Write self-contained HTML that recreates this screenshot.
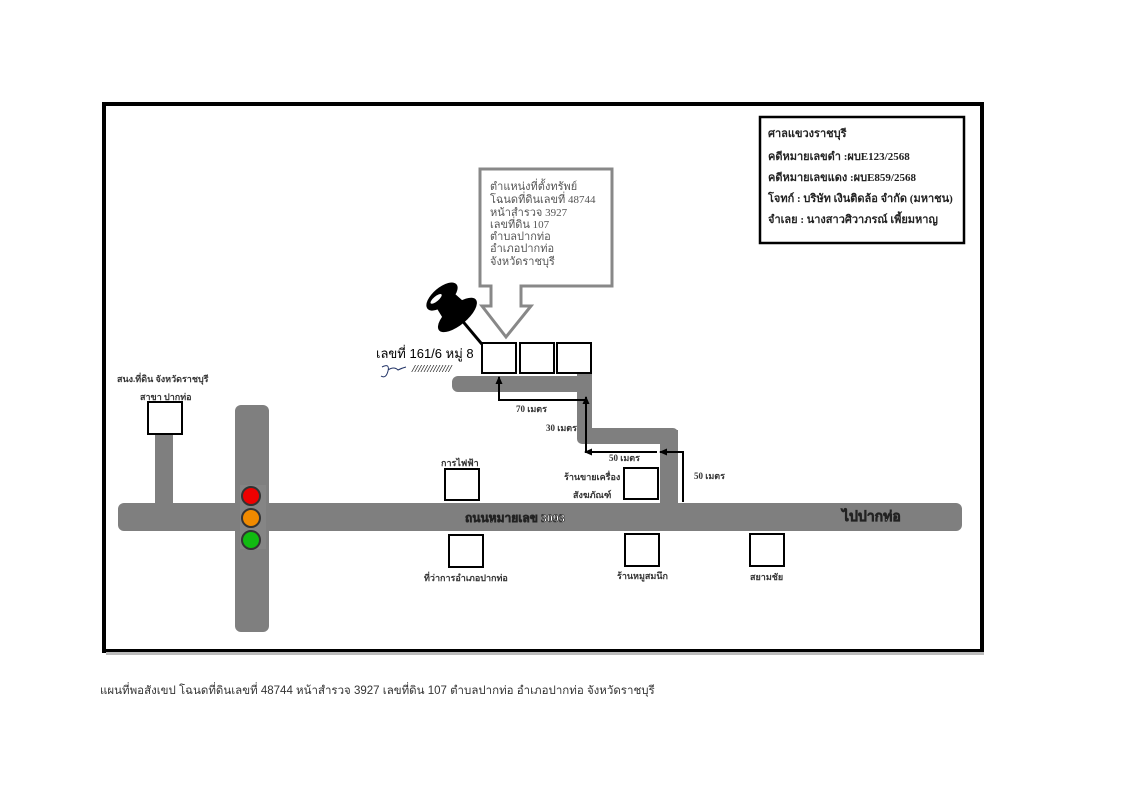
<!DOCTYPE html>
<html><head><meta charset="utf-8"><style>
body{margin:0;background:#fff;width:1132px;height:800px;overflow:hidden}
svg{position:absolute;left:0;top:0}
text{font-family:"Liberation Serif","Noto Serif CJK SC",serif;}
.s{font-family:"Liberation Sans","Noto Sans CJK SC",sans-serif}
</style></head><body>
<svg width="1132" height="800" viewBox="0 0 1132 800">
<defs><marker id="a" markerUnits="userSpaceOnUse" markerWidth="8" markerHeight="8" refX="7" refY="4" orient="auto"><path d="M0,0.5 L8,4 L0,7.5 z" fill="#000"/></marker></defs>
<rect x="104" y="104" width="878" height="547" fill="none" stroke="#000" stroke-width="4"/>
<rect x="106" y="652" width="878" height="3" fill="#bbb"/>
<!-- info box -->
<rect x="760" y="117" width="204" height="126" fill="#fff" stroke="#000" stroke-width="2.5"/>
<g font-size="11" font-weight="bold" fill="#222">
<text x="768" y="137">ศาลแขวงราชบุรี</text>
<text x="768" y="160">คดีหมายเลขดำ :ผบE123/2568</text>
<text x="768" y="181">คดีหมายเลขแดง :ผบE859/2568</text>
<text x="768" y="202">โจทก์ : บริษัท เงินติดล้อ จำกัด (มหาชน)</text>
<text x="768" y="223">จำเลย : นางสาวศิวาภรณ์ เพี้ยมหาญ</text>
</g>
<!-- callout -->
<path d="M480,169 H612 V286 H521 V306 H531 L506,337 L482,306 H491 V286 H480 Z" fill="#fff" stroke="#888" stroke-width="3"/>
<g font-size="11" fill="#555">
<text x="490" y="190">ตำแหน่งที่ตั้งทรัพย์</text>
<text x="490" y="203">โฉนดที่ดินเลขที่ 48744</text>
<text x="490" y="216">หน้าสำรวจ 3927</text>
<text x="490" y="228">เลขที่ดิน 107</text>
<text x="490" y="240">ตำบลปากท่อ</text>
<text x="490" y="252">อำเภอปากท่อ</text>
<text x="490" y="265">จังหวัดราชบุรี</text>
</g>
<!-- roads -->
<g fill="#7f7f7f">
<rect x="118" y="503" width="844" height="28" rx="6"/>
<rect x="235" y="405" width="34" height="227" rx="6"/>
<rect x="155" y="433" width="18" height="72"/>
<rect x="452" y="376" width="140" height="16" rx="6"/>
<rect x="577" y="345" width="15" height="95" rx="4"/>
<rect x="577" y="428" width="101" height="16" rx="5"/>
<rect x="660" y="430" width="18" height="75"/>
</g>
<!-- boxes -->
<g fill="#fff" stroke="#000" stroke-width="2">
<rect x="482" y="343" width="34" height="30"/>
<rect x="520" y="343" width="34" height="30"/>
<rect x="557" y="343" width="34" height="30"/>
<rect x="148" y="402" width="34" height="32"/>
<rect x="445" y="469" width="34" height="31"/>
<rect x="624" y="468" width="34" height="31"/>
<rect x="449" y="535" width="34" height="32"/>
<rect x="625" y="534" width="34" height="32"/>
<rect x="750" y="534" width="34" height="32"/>
</g>
<!-- traffic light -->
<rect x="240" y="485" width="26" height="64" fill="#888" opacity=".6"/>
<circle cx="251" cy="496" r="9" fill="#e00" stroke="#333" stroke-width="2"/>
<circle cx="251" cy="518" r="9" fill="#f08a00" stroke="#333" stroke-width="2"/>
<circle cx="251" cy="540" r="9" fill="#1b1" stroke="#333" stroke-width="2"/>
<!-- arrows -->
<g fill="none" stroke="#000" stroke-width="2">
<path d="M683,502 V452 H660" marker-end="url(#a)"/>
<path d="M657,452 H585" marker-end="url(#a)"/>
<path d="M586,452 V397" marker-end="url(#a)"/>
<path d="M586,400 H499 V377" marker-end="url(#a)"/>
</g>
<!-- labels -->
<g font-size="9" font-weight="bold" fill="#333">
<text x="516" y="412">70 เมตร</text>
<text x="546" y="431">30 เมตร</text>
<text x="609" y="461">50 เมตร</text>
<text x="694" y="479">50 เมตร</text>
<text x="441" y="466">การไฟฟ้า</text>
<text x="564" y="480">ร้านขายเครื่อง</text>
<text x="573" y="498">สังฆภัณฑ์</text>
<text x="117" y="382">สนง.ที่ดิน จังหวัดราชบุรี</text>
<text x="140" y="400">สาขา ปากท่อ</text>
<text x="424" y="581">ที่ว่าการอำเภอปากท่อ</text>
<text x="617" y="579">ร้านหมูสมนึก</text>
<text x="750" y="580">สยามชัย</text>
</g>
<text x="465" y="522" font-size="12" font-weight="bold" fill="#fff" stroke="#222" stroke-width=".6">ถนนหมายเลข 3093</text>
<text x="842" y="521" font-size="14" font-weight="bold" fill="#fff" stroke="#222" stroke-width=".6">ไปปากท่อ</text>
<text class="s" x="376" y="358" font-size="13" fill="#000">เลขที่ 161/6 หมู่ 8</text>
<text x="412" y="372" font-size="11" fill="#222" font-style="italic" font-weight="bold">/////////////</text>
<path d="M382,367 q8,-4 6,4 q-2,8 -7,5 M388,370 q6,-4 10,0 q4,-2 8,-3" fill="none" stroke="#236" stroke-width="1"/>
<!-- pushpin -->
<g transform="rotate(-40 460 318)">
<ellipse cx="460" cy="290" rx="19" ry="9" fill="#000"/>
<path d="M449,292 L446,312 H474 L471,292 Z" fill="#000"/>
<ellipse cx="460" cy="314" rx="24" ry="10" fill="#000"/>
<line x1="460" y1="320" x2="460" y2="352" stroke="#000" stroke-width="3"/>
<ellipse cx="454" cy="288" rx="7" ry="2.5" fill="#fff"/>
</g>
<text class="s" x="100" y="694" font-size="11.5" fill="#333">แผนที่พอสังเขป โฉนดที่ดินเลขที่ 48744 หน้าสำรวจ 3927 เลขที่ดิน 107 ตำบลปากท่อ  อำเภอปากท่อ   จังหวัดราชบุรี</text>
</svg>
</body></html>
